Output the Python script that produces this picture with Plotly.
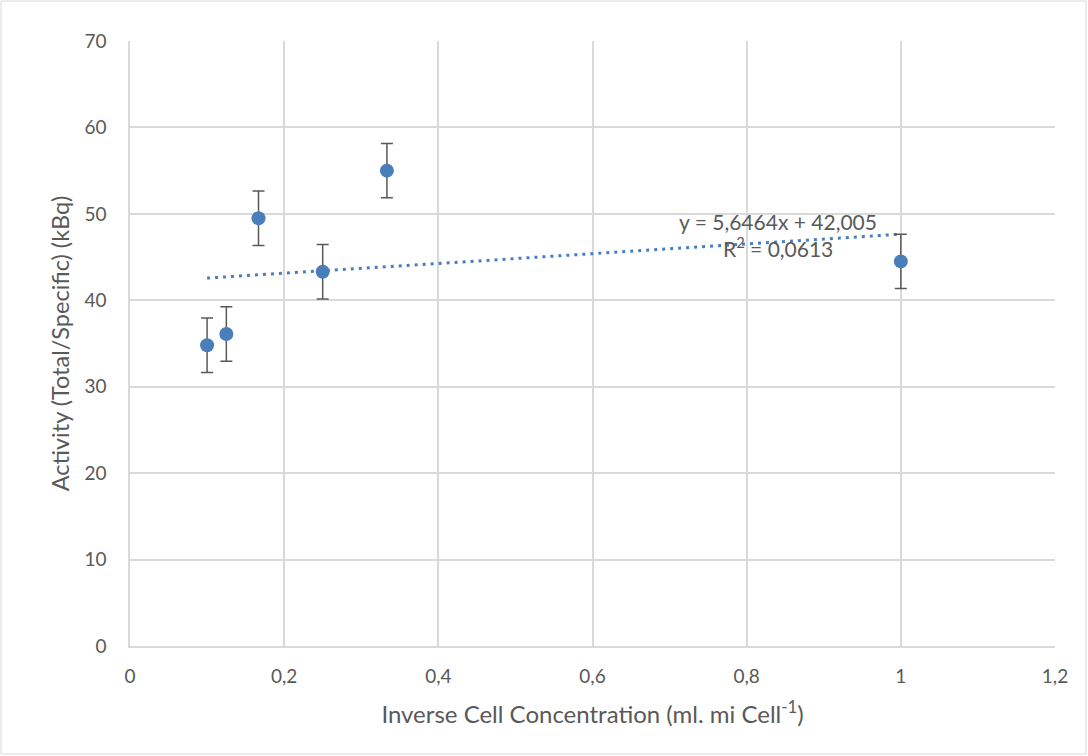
import plotly.graph_objects as go

# Data
x_vals = [0.1, 0.125, 0.1667, 0.25, 0.3333, 1.0]
y_vals = [34.8, 36.1, 49.5, 43.3, 55.0, 44.5]
y_err = [3.15, 3.15, 3.15, 3.15, 3.15, 3.15]

trend_slope = 5.6464
trend_intercept = 42.005
trend_r2_label = "0,0613"

x_ticks = [0, 0.2, 0.4, 0.6, 0.8, 1.0, 1.2]
x_tick_text = ["0", "0,2", "0,4", "0,6", "0,8", "1", "1,2"]
y_ticks = [0, 10, 20, 30, 40, 50, 60, 70]

trend_x = [min(x_vals), max(x_vals)]
trend_y = [trend_slope * v + trend_intercept for v in trend_x]

FONT = "Lato, 'Open Sans', sans-serif"
TXT = "#595959"
GRID = "#d9d9d9"
BLUE = "#4a7ebb"

fig = go.Figure()
fig.add_trace(go.Scatter(
    x=trend_x, y=trend_y, mode="lines",
    line=dict(color=BLUE, width=3, dash="3px,5px"),
    showlegend=False, hoverinfo="skip"))
fig.add_trace(go.Scatter(
    x=x_vals, y=y_vals, mode="markers",
    marker=dict(color=BLUE, size=14),
    error_y=dict(type="data", array=y_err, visible=True,
                 color=TXT, thickness=1.5, width=6),
    showlegend=False))

fig.add_annotation(x=0.84, y=49.15, xref="x", yref="y",
                   text=f"y = {str(trend_slope).replace('.', ',')}x + {str(trend_intercept).replace('.', ',')}",
                   showarrow=False, font=dict(family=FONT, size=21, color=TXT))
fig.add_annotation(x=0.84, y=46.2, xref="x", yref="y",
                   text=f"R<sup>2</sup> = {trend_r2_label}",
                   showarrow=False, font=dict(family=FONT, size=21, color=TXT))

W, H = 1088, 756
ml, mr, mt, mb = 130, 33, 41, 110
pw, ph = W - ml - mr, H - mt - mb
fig.add_shape(type="rect", xref="paper", yref="paper",
              x0=(-ml + 1) / pw, x1=(W - ml - 2) / pw,
              y0=(-mb + 2) / ph, y1=(ph + mt - 1) / ph,
              line=dict(color=GRID, width=1), layer="below")

fig.update_layout(
    width=W, height=H,
    margin=dict(l=ml, r=mr, t=mt, b=mb, autoexpand=False),
    paper_bgcolor="white", plot_bgcolor="white",
    font=dict(family=FONT, size=19, color=TXT),
    separators=",.",
    xaxis=dict(range=[0, 1.2], tickvals=x_ticks, ticktext=x_tick_text,
               showgrid=True, gridcolor=GRID, gridwidth=1.5,
               zeroline=False, showline=True, linecolor=GRID, linewidth=1.5,
               ticks="", tickfont=dict(size=19, color=TXT),
               ticklabelstandoff=12, automargin=False,
               title=dict(text="Inverse Cell Concentration (ml. mi Cell<sup>-1</sup>)",
                          font=dict(size=24, color=TXT), standoff=21)),
    yaxis=dict(range=[0, 70], tickvals=y_ticks,
               showgrid=True, gridcolor=GRID, gridwidth=1.5,
               zeroline=False, showline=True, linecolor=GRID, linewidth=1.5,
               ticks="", tickfont=dict(size=19, color=TXT),
               ticklabelstandoff=18, automargin=False,
               title=dict(text="Activity (Total/Specific) (kBq)",
                          font=dict(size=23.5, color=TXT), standoff=8)),
)

fig.write_html("out.html", config={"displayModeBar": False},
               post_script="document.body.style.margin='0';document.body.style.overflow='hidden';")
